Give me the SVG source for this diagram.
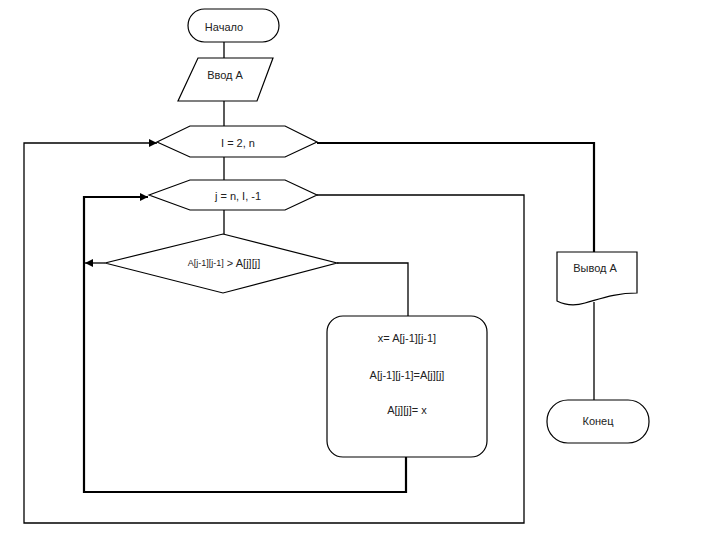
<svg xmlns="http://www.w3.org/2000/svg" width="720" height="540" viewBox="0 0 720 540">
<style>
.s{fill:#fff;stroke:#000;stroke-width:1.2}
.t{font-family:"Liberation Sans",Arial,sans-serif;font-size:11px;fill:#222;text-anchor:middle;dominant-baseline:central}
.c{fill:none;stroke:#000;stroke-width:1.3}
.b{fill:none;stroke:#000;stroke-width:2.2}
</style>
<defs>
<marker id="ar" viewBox="0 0 10 10" refX="10" refY="5" markerWidth="8" markerHeight="8" markerUnits="userSpaceOnUse" orient="auto">
<path d="M0,0 L10,5 L0,10 Z" fill="#000"/>
</marker>
</defs>
<rect width="720" height="540" fill="#fff"/>
<g id="connectors">
<line class="c" x1="224" y1="42" x2="224" y2="58"/>
<line class="c" x1="224" y1="101" x2="224" y2="126"/>
<line class="c" x1="224" y1="157" x2="224" y2="180"/>
<line class="c" x1="224" y1="210" x2="224" y2="234"/>
<polyline class="c" points="337,263 408,263 408,316"/>
<line class="c" x1="105" y1="263" x2="85" y2="263" marker-end="url(#ar)"/>
<polyline class="b" points="406,457 406,492 84,492 84,197 148,197" marker-end="url(#ar)"/>
<polyline class="c" points="317,195 524,195 524,523 24,523 24,143 157,143" marker-end="url(#ar)"/>
<polyline class="b" points="317,143 594,143 594,252"/>
<line class="c" x1="594" y1="302" x2="594" y2="400"/>
</g>
<g id="start">
<rect class="s" x="188" y="9" width="91" height="33" rx="16.5"/>
<text class="t" x="224" y="27">Начало</text>
</g>
<g id="input">
<polygon class="s" points="198,58 273,58 257,101 178,101"/>
<text class="t" x="225" y="75">Ввод А</text>
</g>
<g id="loopI">
<polygon class="s" points="157,142 190,126 285,126 317,142 285,157 190,157"/>
<text class="t" x="238" y="143">I = 2, n</text>
</g>
<g id="loopJ">
<polygon class="s" points="149,195 190,180 285,180 317,195 285,210 190,210"/>
<text class="t" x="238" y="196">j = n, I, -1</text>
</g>
<g id="cond">
<polygon class="s" points="223,234 337,263 223,293 105,263"/>
<text class="t" x="224" y="263"><tspan font-size="9">A[j-1][j-1]</tspan> &gt; A[j][j]</text>
</g>
<g id="swap">
<rect class="s" x="327" y="316" width="160" height="141" rx="16"/>
<text class="t" x="407" y="338">x= A[j-1][j-1]</text>
<text class="t" x="407" y="375">A[j-1][j-1]=A[j][j]</text>
<text class="t" x="407" y="410">A[j][j]= x</text>
</g>
<g id="output">
<path class="s" d="M557,252 H637 V293 C615,293 600,299 585,303 C575,306 565,305 557,301 Z"/>
<text class="t" x="595" y="268">Вывод А</text>
</g>
<g id="end">
<rect class="s" x="547" y="400" width="102" height="43" rx="21"/>
<text class="t" x="598" y="421">Конец</text>
</g>
</svg>
